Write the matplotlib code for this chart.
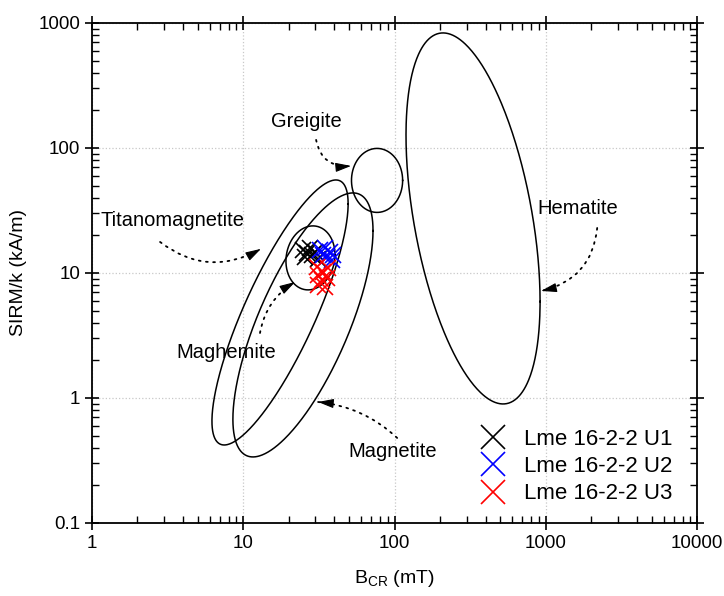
import numpy as np
import matplotlib
matplotlib.use('Agg')
import matplotlib.pyplot as plt

plt.rcParams['font.family'] = ['Liberation Sans', 'DejaVu Sans']
plt.rcParams['mathtext.fontset'] = 'custom'
plt.rcParams['mathtext.rm'] = 'Liberation Sans'
plt.rcParams['mathtext.it'] = 'Liberation Sans:italic'

# Sample data: B_CR (mT) and SIRM/k (kA/m)
u1_bcr = [24.8, 26.4, 27.6, 25.6, 28.5, 29.8, 31.0]
u1_sirm = [15.3, 14.5, 15.8, 13.4, 13.9, 14.7, 13.0]
u2_bcr = [32.2, 34.7, 37.5, 35.8, 39.2, 38.6, 33.7]
u2_sirm = [15.3, 15.8, 14.7, 13.4, 13.9, 12.7, 13.9]
u3_bcr = [31.2, 33.7, 33.2, 35.8, 31.2, 34.7, 36.3, 30.7]
u3_sirm = [9.64, 10.2, 8.79, 9.12, 8.02, 7.73, 11.0, 11.2]

series_labels = ['Lme 16-2-2 U1', 'Lme 16-2-2 U2', 'Lme 16-2-2 U3']
series_colors = ['black', 'blue', 'red']

# Mineral fields: centre (mT, kA/m), half extents in decades, tilt correlation
mineral_names = ['Titanomagnetite', 'Magnetite', 'Hematite', 'Greigite', 'Maghemite']
field_bcr = [17.5, 24.8, 330.0, 76.6, 27.8]
field_sirm = [4.83, 3.84, 27.3, 55.0, 13.2]
field_wx = [0.450, 0.463, 0.443, 0.169, 0.162]
field_wy = [1.060, 1.056, 1.484, 0.256, 0.256]
field_rho = [0.82, 0.714, -0.448, 0.0, 0.1]

# Label placement: text position, arrow tail, arrow tip, curvature
label_text_pos = [(3.43, 26.5), (97.8, 0.37), (1634, 32.5), (26.0, 164), (7.69, 2.29)]
label_tail = [(2.82, 17.7), (104, 0.479), (2183, 22.9), (30.3, 116), (12.9, 3.31)]
label_tip = [(13.1, 15.6), (31.2, 0.929), (930, 7.18), (51.6, 71.8), (22.0, 8.47)]
label_rad = [0.33, 0.17, -0.36, 0.45, -0.23]

fig = plt.figure(figsize=(7.24, 5.96), dpi=100)
ax = fig.add_axes([0.127, 0.1225, 0.836, 0.839])
ax.set_xscale('log')
ax.set_yscale('log')
ax.set_xlim(1, 10000)
ax.set_ylim(0.1, 1000)

ax.grid(True, which='major', linestyle=':', color='#c8c8c8', linewidth=0.9)
ax.set_axisbelow(True)

# Ellipses drawn in log space
t = np.linspace(0, 2 * np.pi, 500)
for cx, cy, wx, wy, rho in zip(field_bcr, field_sirm, field_wx, field_wy, field_rho):
    phi = np.arccos(rho)
    lx = np.log10(cx) + wx * np.cos(t)
    ly = np.log10(cy) + wy * np.cos(t - phi)
    ax.plot(10 ** lx, 10 ** ly, color='black', linewidth=1.1)

# Sample points
for bx, sy, lab, col in zip([u1_bcr, u2_bcr, u3_bcr], [u1_sirm, u2_sirm, u3_sirm],
                            series_labels, series_colors):
    ax.plot(bx, sy, linestyle='none', marker='x', markersize=12, markeredgewidth=1.2,
            color=col, label=lab)

# Mineral labels with curved dotted arrows (dotted shaft + solid head)
for name, pos, tail, tip, rad in zip(mineral_names, label_text_pos, label_tail,
                                     label_tip, label_rad):
    ax.text(pos[0], pos[1], name, fontsize=14.5, ha='center', va='center')
    ax.annotate('', xy=tip, xytext=tail,
                arrowprops=dict(arrowstyle='-', linestyle=(0, (1, 3)), linewidth=1.3,
                                color='black', shrinkA=0, shrinkB=0,
                                connectionstyle='arc3,rad=%s' % rad))
    # direction of the curve at the tip (arc3 control point, display coords)
    p0 = ax.transData.transform(tail)
    p1 = ax.transData.transform(tip)
    dx, dy = p1 - p0
    ctrl = (p0 + p1) / 2 + rad * np.array([dy, -dx])
    d = p1 - ctrl
    d = d / np.hypot(*d)
    ax.annotate('', xy=tip, xytext=(-d[0] * 9, -d[1] * 9), textcoords='offset points',
                arrowprops=dict(arrowstyle='-|>,head_length=0.95,head_width=0.28',
                                linewidth=0.8, color='black', shrinkA=0, shrinkB=0))

ax.tick_params(which='major', direction='inout', length=10, width=1.2, top=True,
               right=True, labelsize=13.5)
ax.tick_params(which='minor', direction='in', length=5, width=1.0, top=True, right=True)
ax.set_xticks([1, 10, 100, 1000, 10000])
ax.set_xticklabels(['1', '10', '100', '1000', '10000'])
ax.set_yticks([0.1, 1, 10, 100, 1000])
ax.set_yticklabels(['0.1', '1', '10', '100', '1000'])
for sp in ax.spines.values():
    sp.set_linewidth(1.3)

ax.set_xlabel(r'B$_{\mathrm{CR}}$ (mT)', fontsize=14, labelpad=12)
ax.set_ylabel('SIRM/k (kA/m)', fontsize=14, labelpad=8)

ax.legend(loc='upper left', bbox_to_anchor=(0.608, 0.228), frameon=False,
          fontsize=16, markerscale=1.4, handlelength=1.2, handletextpad=0.8,
          labelspacing=0.28)

fig.savefig('out.png', dpi=100)
